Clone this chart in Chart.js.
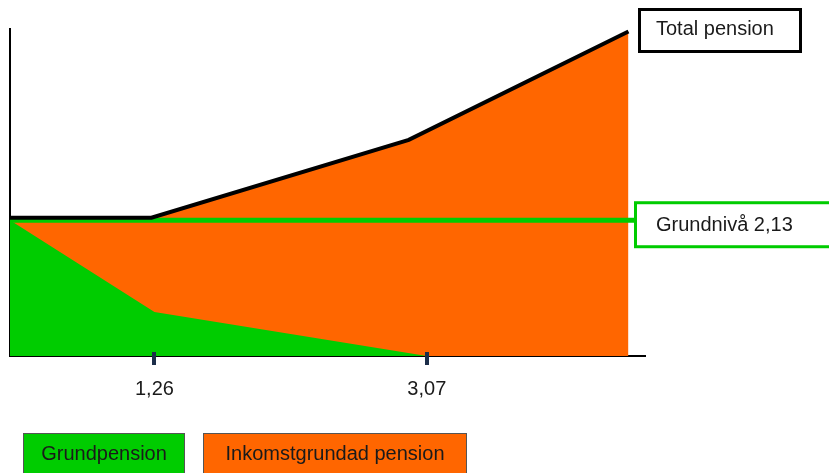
<!DOCTYPE html>
<html>
<head>
<meta charset="utf-8">
<script src="https://cdn.jsdelivr.net/npm/chart.js@4/dist/chart.umd.min.js"></script>
<style>
  html,body{margin:0;padding:0;background:#fff;}
  #wrap{position:relative;width:829px;height:473px;}
</style>
</head>
<body>
<div id="wrap"><canvas id="c" width="829" height="473"></canvas></div>
<script>
// schematic values (income on x, pension on y)
const grundX=[0.3,1.26,3.07];
const grundY=[2.13,0.69,0];
const totalX=[0.3,1.24,2.95,4.41];
const totalY=[2.17,2.17,3.39,5.09];
const levelX=[0.3,4.45];
const levelY=[2.13,2.13];
const tickValues=[1.26,3.07];
const tickLabels=['1,26','3,07'];
const seriesNames=['Grundpension','Inkomstgrundad pension'];
const levelLabel='Grundnivå 2,13';
const totalLabel='Total pension';

const GREEN='#00cc00', ORANGE='#ff6600', TXT='#1a1a1a';
const pts=(xs,ys)=>xs.map((x,i)=>({x,y:ys[i]}));

const overlay={
  id:'overlay',
  afterDraw(chart){
    const {ctx}=chart, xs=chart.scales.x, ys=chart.scales.y;
    ctx.save();
    // tick marks across the axis
    ctx.fillStyle='#1c2e4a';
    tickValues.forEach(v=>{
      const px=xs.getPixelForValue(v);
      ctx.fillRect(Math.round(px)-2,ys.bottom-4,4,13);
    });
    ctx.font='20px "Liberation Sans", Arial, sans-serif';
    ctx.textBaseline='middle';
    ctx.fillStyle=TXT;
    ctx.textAlign='center';
    tickLabels.forEach((t,i)=>{
      ctx.fillText(t,xs.getPixelForValue(tickValues[i]),ys.bottom+33);
    });
    // Total pension box
    ctx.lineWidth=3;
    ctx.strokeStyle='#000';
    ctx.fillStyle='#fff';
    ctx.fillRect(639,9,162,43);
    ctx.strokeRect(639.5,9.5,161,42);
    ctx.fillStyle=TXT;
    ctx.textAlign='left';
    ctx.fillText(totalLabel,656,29);
    // Grundnivå box
    const ly=ys.getPixelForValue(levelY[0]);
    ctx.strokeStyle=GREEN;
    ctx.fillStyle='#fff';
    ctx.fillRect(635,ly-18,200,45);
    ctx.strokeRect(635.5,ly-17.5,200,44);
    ctx.fillStyle=TXT;
    ctx.fillText(levelLabel,656,ly+5);
    // legend boxes
    const boxes=[[24,160,GREEN],[204,262,ORANGE]];
    ctx.lineWidth=1;
    ctx.strokeStyle='#555';
    ctx.textAlign='center';
    boxes.forEach((b,i)=>{
      ctx.fillStyle=b[2];
      ctx.fillRect(b[0],434,b[1],45);
      ctx.strokeRect(b[0]-0.5,433.5,b[1]+1,46);
      ctx.fillStyle=TXT;
      ctx.fillText(seriesNames[i],b[0]+b[1]/2,454);
    });
    ctx.restore();
  }
};

new Chart(document.getElementById('c'),{
  type:'scatter',
  data:{datasets:[
    {label:'Total',data:pts(totalX,totalY),showLine:true,borderColor:'#000',borderWidth:4,pointRadius:0,fill:false,order:0},
    {label:'Grundnivå',data:pts(levelX,levelY),showLine:true,borderColor:GREEN,borderWidth:5,pointRadius:0,fill:false,order:1},
    {label:seriesNames[0],data:pts(grundX,grundY),showLine:true,borderColor:GREEN,borderWidth:0,backgroundColor:GREEN,pointRadius:0,fill:'origin',order:2},
    {label:seriesNames[1],data:pts(totalX,totalY),showLine:true,borderColor:ORANGE,borderWidth:0,backgroundColor:ORANGE,pointRadius:0,fill:'origin',order:3}
  ]},
  options:{
    responsive:false,animation:false,
    layout:{padding:{left:10,top:29,right:184,bottom:117}},
    plugins:{legend:{display:false},tooltip:{enabled:false}},
    scales:{
      x:{type:'linear',min:0.3,max:4.52,
        grid:{display:false,drawTicks:false},ticks:{display:false},
        border:{display:true,color:'#000',width:2}},
      y:{type:'linear',min:0,max:5.13,
        grid:{display:false,drawTicks:false},ticks:{display:false},
        border:{display:true,color:'#000',width:2}}
    }
  },
  plugins:[overlay]
});
</script>
</body>
</html>
